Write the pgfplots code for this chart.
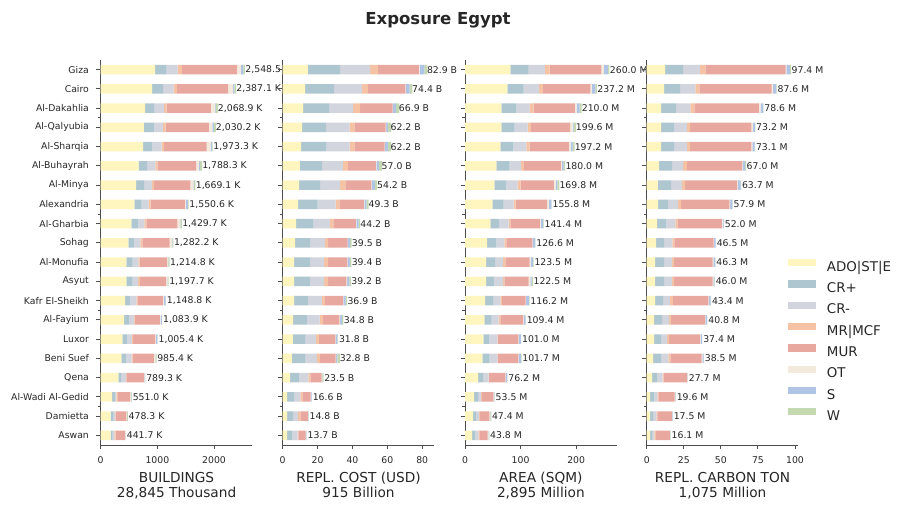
\documentclass[border=0pt]{standalone}
\usepackage{fontspec}
\setmainfont{DejaVu Sans}
\usepackage{pgfplots}
\pgfplotsset{compat=1.18}
\usepackage{pgfplotstable}

\definecolor{cado}{HTML}{FFF6BF}
\definecolor{ccrp}{HTML}{AEC6CF}
\definecolor{ccrm}{HTML}{D2D5DE}
\definecolor{cmr}{HTML}{F5C2A4}
\definecolor{cmur}{HTML}{E8A8A0}
\definecolor{cot}{HTML}{F3E9DC}
\definecolor{cs}{HTML}{B0C4E6}
\definecolor{cw}{HTML}{C4D9B0}
\definecolor{txt}{HTML}{262626}
\definecolor{spine}{HTML}{4D4D4D}

\newcommand{\tk}{\fontsize{9.3}{11}\selectfont}

% BUILDINGS (thousand)
\pgfplotstableread{
idx ado crp crm mr mur ot s w tot
19 958 206 194 76 966 71 46 31.5 2548.5
18 905 196 186 55 905 88 24 28.1 2387.1
17 782 159 176 48 780 70 12 41.9 2068.9
16 763 175 158 49 761 65 24 35.2 2030.2
15 750 160 166 41 750 71 24 11.3 1973.3
14 671 147 147 41 678 46 23 35.3 1788.3
13 626 140 142 30 643 53 12 23.1 1669.1
12 594 126 124 36 606 17 36 11.6 1550.6
11 540 124 106 36 546 47 6 24.7 1429.7
10 487 106 106 36 481 41 6 19.2 1282.2
9 454 108 102 24 485 15 7 19.8 1214.8
8 455 108 96 30 467 18 6 17.7 1197.7
7 432 90 106 18 450 18 30 4.8 1148.8
6 412 89 82 17 442 13 24 4.9 1083.9
5 383 89 78 23 389 12 24 7.4 1005.4
4 365 90 90 18 376 24 6 16.4 985.4
3 311 48 84 12 305 12 6 11.3 789.3
2 202 47 29 24 219 12 6 12.0 551.0
1 177 42 41 6 189 6 6 11.3 478.3
0 174 38 31 19 168 6 3 2.7 441.7
}\bldg

% REPL. COST (billion USD)
\pgfplotstableread{
idx ado crp crm mr mur ot s w tot
19 14.4 18.6 17.1 4.6 23.4 0.4 2.8 1.6 82.9
18 12.9 16.6 15.9 3.4 21.5 0.4 2.1 1.6 74.4
17 11.7 14.9 13.8 4.0 18.6 0.2 1.9 1.8 66.9
16 11.1 13.8 13.5 2.7 17.9 0.3 1.0 1.9 62.2
15 10.6 14.3 13.5 2.7 17.3 0.2 1.7 1.9 62.2
14 9.9 12.6 12.0 2.9 16.0 0.3 1.5 1.8 57.0
13 9.4 12.1 11.5 2.9 15.0 0.3 1.6 1.4 54.2
12 8.9 11.1 10.4 2.1 14.1 0.3 1.1 1.3 49.3
11 7.7 9.8 9.6 1.9 12.9 0.3 1.4 0.6 44.2
10 7.1 8.6 8.6 1.7 11.2 0.2 1.2 0.9 39.5
9 6.5 9.2 8.0 2.3 11.1 0.2 1.2 0.9 39.4
8 6.5 9.2 8.0 2.3 10.5 0.4 1.3 1.0 39.2
7 6.5 8.0 8.0 1.7 10.4 0.2 1.3 0.8 36.9
6 6.0 8.1 7.1 1.9 9.4 0.4 1.2 0.7 34.8
5 5.9 6.9 6.3 1.7 9.4 0.2 1.0 0.4 31.8
4 5.3 7.5 6.8 1.7 9.1 0.2 0.8 1.4 32.8
3 4.3 5.2 5.2 1.2 6.4 0.3 0.2 0.7 23.5
2 2.5 4.1 3.5 1.2 4.7 0.2 0.35 0.05 16.6
1 2.5 3.5 2.9 1.2 4.3 0.1 0.2 0.1 14.8
0 2.5 3.0 3.1 0.4 4.1 0.1 0.4 0.1 13.7
}\cost

% AREA (million sqm)
\pgfplotstableread{
idx ado crp crm mr mur ot s w tot
19 81.6 32.8 29.4 8.6 92.9 4.7 7.3 2.7 260.0
18 76.4 29.2 27.8 6.6 85.4 3.0 6.4 2.4 237.2
17 65.3 27.3 23.5 7.4 74.3 3.0 5.4 3.8 210.0
16 65.5 23.7 23.6 5.6 70.9 4.2 1.8 4.3 199.6
15 63.5 23.6 23.5 5.5 70.8 3.0 3.6 3.7 197.2
14 56.5 23.8 20.7 4.9 66.7 1.8 3.1 2.5 180.0
13 52.8 21.7 20.0 5.4 60.2 3.0 3.1 3.6 169.8
12 49.2 20.1 18.4 3.6 56.6 3.0 4.3 0.6 155.8
11 45.5 16.4 16.4 3.5 52.9 1.8 4.3 0.6 141.4
10 40.0 16.4 14.5 3.7 46.5 0.6 4.3 0.6 126.6
9 38.1 16.3 14.0 4.2 43.6 1.8 4.3 1.2 123.5
8 38.2 14.6 15.8 2.4 43.7 3.0 2.4 2.4 122.5
7 36.3 14.5 12.7 3.0 42.5 1.2 4.8 1.2 116.2
6 34.8 12.9 12.8 3.1 40.9 1.2 3.1 0.6 109.4
5 33.0 11.0 14.1 0.6 37.4 0.6 3.7 0.6 101.0
4 31.2 12.9 14.0 0.6 37.4 0.6 3.7 1.3 101.7
3 23.6 9.1 9.7 1.2 29.1 0.6 2.4 0.5 76.2
2 16.4 7.3 5.4 1.8 20.1 0.6 1.2 0.7 53.5
1 14.6 5.5 5.5 1.8 16.4 1.2 0.6 1.8 47.4
0 13.0 5.5 5.5 1.9 14.8 1.2 0.6 1.3 43.8
}\area

% REPL. CARBON (million ton)
\pgfplotstableread{
idx ado crp crm mr mur ot s w tot
19 12.4 12.2 11.5 3.4 54.1 0.5 2.4 0.9 97.4
18 11.7 10.9 10.2 2.7 48.7 1.1 2.0 0.3 87.6
17 9.7 10.2 9.5 2.7 43.6 1.1 1.75 0.05 78.6
16 9.7 8.8 8.8 2.0 41.2 1.1 1.3 0.3 73.2
15 9.7 8.8 8.8 2.0 41.2 0.7 1.5 0.4 73.1
14 8.3 8.8 7.4 2.7 37.1 0.4 1.6 0.7 67.0
13 7.6 8.8 7.5 2.0 35.1 0.5 1.8 0.4 63.7
12 7.7 6.7 6.8 2.0 32.5 0.5 1.5 0.2 57.9
11 7.0 6.2 6.1 1.4 30.0 0.5 0.6 0.2 52.0
10 6.4 5.4 5.5 1.3 26.5 0.4 0.9 0.1 46.5
9 5.6 6.1 5.4 1.4 26.0 0.4 1.2 0.2 46.3
8 5.6 6.1 5.4 1.4 26.0 0.4 0.7 0.4 46.0
7 5.6 5.4 4.7 2.0 23.9 0.4 1.1 0.3 43.4
6 5.0 5.4 4.7 1.3 23.0 0.2 1.1 0.1 40.8
5 5.0 4.7 4.0 1.4 21.0 0.2 1.0 0.1 37.4
4 4.3 5.5 4.8 1.4 21.1 0.5 0.7 0.2 38.5
3 3.7 3.5 3.5 0.7 15.9 0.2 0.1 0.1 27.7
2 2.3 2.8 2.1 0.6 11.1 0.3 0.2 0.2 19.6
1 2.3 2.1 2.1 0.7 9.8 0.2 0.2 0.1 17.5
0 2.3 1.4 1.4 1.2 9.3 0.2 0.2 0.1 16.1
}\carbon

\pgfplotsset{
  panel/.style={
    scale only axis, width=151.7pt, height=385pt,
    xbar stacked, bar width=0.5,
    ymin=-0.5, ymax=19.5, xmin=0,
    axis lines*=left,
    axis line style={draw=spine, line width=0.9pt},
    tick style={draw=spine, line width=0.9pt},
    tick align=outside,
    major tick length=4.3pt, minor tick length=2.6pt,
    ytick={0,...,19}, yticklabels={},
    minor ytick={1.5,6.5,11.5,16.5},
    scaled x ticks=false,
    xticklabel style={font=\tk, text=txt, yshift=-4pt},
    yticklabel style={font=\tk, text=txt, xshift=-4pt},
    xlabel style={align=center, font=\fontsize{13.7}{15.6}\selectfont, text=txt,
      at={(axis description cs:0.5,0)}, anchor=north, inner sep=0pt, yshift=-26.7pt},
    clip=false,
    axis background/.style={fill=white},
    every node near coord/.append style={anchor=west, font=\tk, text=txt, inner sep=1pt},
  }
}

\newcommand{\bars}[2]{%
  \addplot[fill=cado, draw=none] table[x=ado, y=idx]{#1};
  \addplot[fill=ccrp, draw=none] table[x=crp, y=idx]{#1};
  \addplot[fill=ccrm, draw=none] table[x=crm, y=idx]{#1};
  \addplot[fill=cmr, draw=none] table[x=mr, y=idx]{#1};
  \addplot[fill=cmur, draw=none] table[x=mur, y=idx]{#1};
  \addplot[fill=cot, draw=none] table[x=ot, y=idx]{#1};
  \addplot[fill=cs, draw=none] table[x=s, y=idx]{#1};
  \addplot[fill=cw, draw=none, point meta=explicit,
    nodes near coords={\pgfmathprintnumber[fixed,fixed zerofill,precision=1,1000 sep={,},assume math mode=true]{\pgfplotspointmeta}~#2}]
    table[x=w, y=idx, meta=tot]{#1};
}

\begin{document}
\begin{tikzpicture}
\useasboundingbox (0,0) rectangle (909pt,510pt);

\begin{axis}[panel, at={(100.7pt,65pt)}, anchor=south west,
  xmax=2676, xtick={0,1000,2000}, xticklabels={0,1000,2000},
  yticklabels={Aswan,Damietta,Al-Wadi Al-Gedid,Qena,Beni Suef,Luxor,Al-Fayium,Kafr El-Sheikh,Asyut,Al-Monufia,Sohag,Al-Gharbia,Alexandria,Al-Minya,Al-Buhayrah,Al-Sharqia,Al-Qalyubia,Al-Dakahlia,Cairo,Giza},
  xlabel={BUILDINGS\\28,845 Thousand}]
\bars{\bldg}{K}
\end{axis}

\begin{axis}[panel, at={(282.7pt,65pt)}, anchor=south west,
  xmax=87.0, xtick={0,20,40,60,80}, xticklabels={0,20,40,60,80},
  xlabel={REPL. COST (USD)\\915 Billion}]
\bars{\cost}{B}
\end{axis}

\begin{axis}[panel, at={(465pt,65pt)}, anchor=south west,
  xmax=273, xtick={0,100,200}, xticklabels={0,100,200},
  xlabel={AREA (SQM)\\2,895 Million}]
\bars{\area}{M}
\end{axis}

\begin{axis}[panel, at={(646.7pt,65pt)}, anchor=south west,
  xmax=102.3, xtick={0,25,50,75,100}, xticklabels={0,25,50,75,100},
  xlabel={REPL. CARBON TON\\1,075 Million},
  legend cell align=left,
  every axis plot post/.append style={legend image code/.code={\fill[##1] (0pt,1.5pt) rectangle (28.7pt,8.8pt);}},
  legend style={draw=none, fill=none, inner sep=0pt,
    at={(axis description cs:0.927,0.4836)}, anchor=north west,
    font=\fontsize{13.4}{13.4}\selectfont, text=txt,
    row sep=6pt, column sep=10.7pt,
    nodes={inner sep=0pt, text height=10pt, text depth=3pt}}]
\bars{\carbon}{M}
\legend{ADO|ST|E, CR+, CR-, MR|MCF, MUR, OT, S, W}
\end{axis}

\node[anchor=base, font=\bfseries\fontsize{16.5}{16.5}\selectfont, text=txt] at (438pt,485.7pt) {Exposure Egypt};
\end{tikzpicture}
\end{document}
